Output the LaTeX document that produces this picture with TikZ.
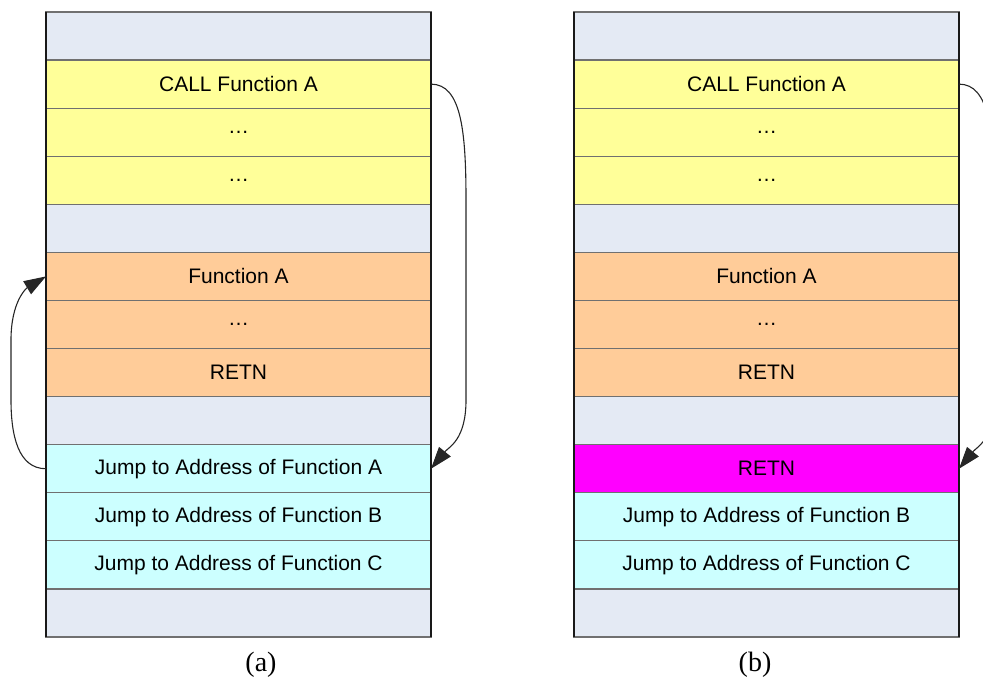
\documentclass[tikz,border=0pt]{standalone}
\usepackage{fontspec}
\setmainfont{Liberation Sans}
\newfontfamily\capfont{Liberation Serif}
\usetikzlibrary{arrows.meta}
\definecolor{slotgray}{HTML}{E4EAF4}
\definecolor{callyellow}{HTML}{FFFF99}
\definecolor{funcorange}{HTML}{FFCC99}
\definecolor{jumpcyan}{HTML}{CCFFFF}
\definecolor{retmagenta}{HTML}{FF00FF}
\definecolor{rulegray}{HTML}{707070}
\newcommand{\elide}{\textellipsis}
\begin{document}
\begin{tikzpicture}[x=1pt,y=-1pt,
  cell/.style={draw=rulegray, line width=1.3pt, minimum width=385pt,
    minimum height=48.08pt, inner sep=0pt, outer sep=0pt, anchor=north west,
    font=\fontsize{21}{24}\selectfont},
  edge/.style={draw=black!90, line width=1.5pt},
  flow/.style={draw=black!85, line width=1.1pt,
    -{Triangle[length=22pt,width=15pt]}},
  caption/.style={font=\capfont\fontsize{28}{32}\selectfont, anchor=base}
]
\useasboundingbox (0,0) rectangle (983,679);
\clip (0,0) rectangle (983,679);

% memory column (a)
\foreach \i/\c/\t in {
  1/slotgray/{}, 2/callyellow/CALL Function A, 3/callyellow/\elide, 4/callyellow/\elide,
  5/slotgray/{}, 6/funcorange/Function A, 7/funcorange/\elide, 8/funcorange/RETN,
  9/slotgray/{}, 10/jumpcyan/Jump to Address of Function A,
  11/jumpcyan/Jump to Address of Function B,
  12/jumpcyan/Jump to Address of Function C, 13/slotgray/{}}
  \node[cell, fill=\c] (a\i) at (46, {12+48.077*(\i-1)}) {\t};

% memory column (b)
\foreach \i/\c/\t in {
  1/slotgray/{}, 2/callyellow/CALL Function A, 3/callyellow/\elide, 4/callyellow/\elide,
  5/slotgray/{}, 6/funcorange/Function A, 7/funcorange/\elide, 8/funcorange/RETN,
  9/slotgray/{}, 10/retmagenta/RETN,
  11/jumpcyan/Jump to Address of Function B,
  12/jumpcyan/Jump to Address of Function C, 13/slotgray/{}}
  \node[cell, fill=\c] (b\i) at (574, {12+48.077*(\i-1)}) {\t};

% dark side edges of both columns
\draw[edge] (a1.north west) -- (a13.south west);
\draw[edge] (a1.north east) -- (a13.south east);
\draw[edge] (b1.north west) -- (b13.south west);
\draw[edge] (b1.north east) -- (b13.south east);

% bend points of the connectors
\coordinate (ra1) at (466,200);
\coordinate (ra2) at (466,400);
\coordinate (la1) at (11,400);
\coordinate (la2) at (11,340);
\coordinate (rb1) at (994,200);
\coordinate (rb2) at (994,400);

% call into the jump table, then jump to the function
\draw[flow] (a2.east) .. controls +(30,0) and +(0,-70) .. (ra1) -- (ra2)
  .. controls +(0,40) and +(18,-22) .. (a10.east);
\draw[flow] (a10.west) .. controls +(-28,0) and +(0,35) .. (la1) -- (la2)
  .. controls +(0,-38) and +(-20,12) .. (a6.west);
\draw[flow] (b2.east) .. controls +(30,0) and +(0,-70) .. (rb1) -- (rb2)
  .. controls +(0,40) and +(18,-22) .. (b10.east);

% captions
\node[caption] (capa) at (261,671) {(a)};
\node[caption] (capb) at (755,671) {(b)};
\end{tikzpicture}
\end{document}
